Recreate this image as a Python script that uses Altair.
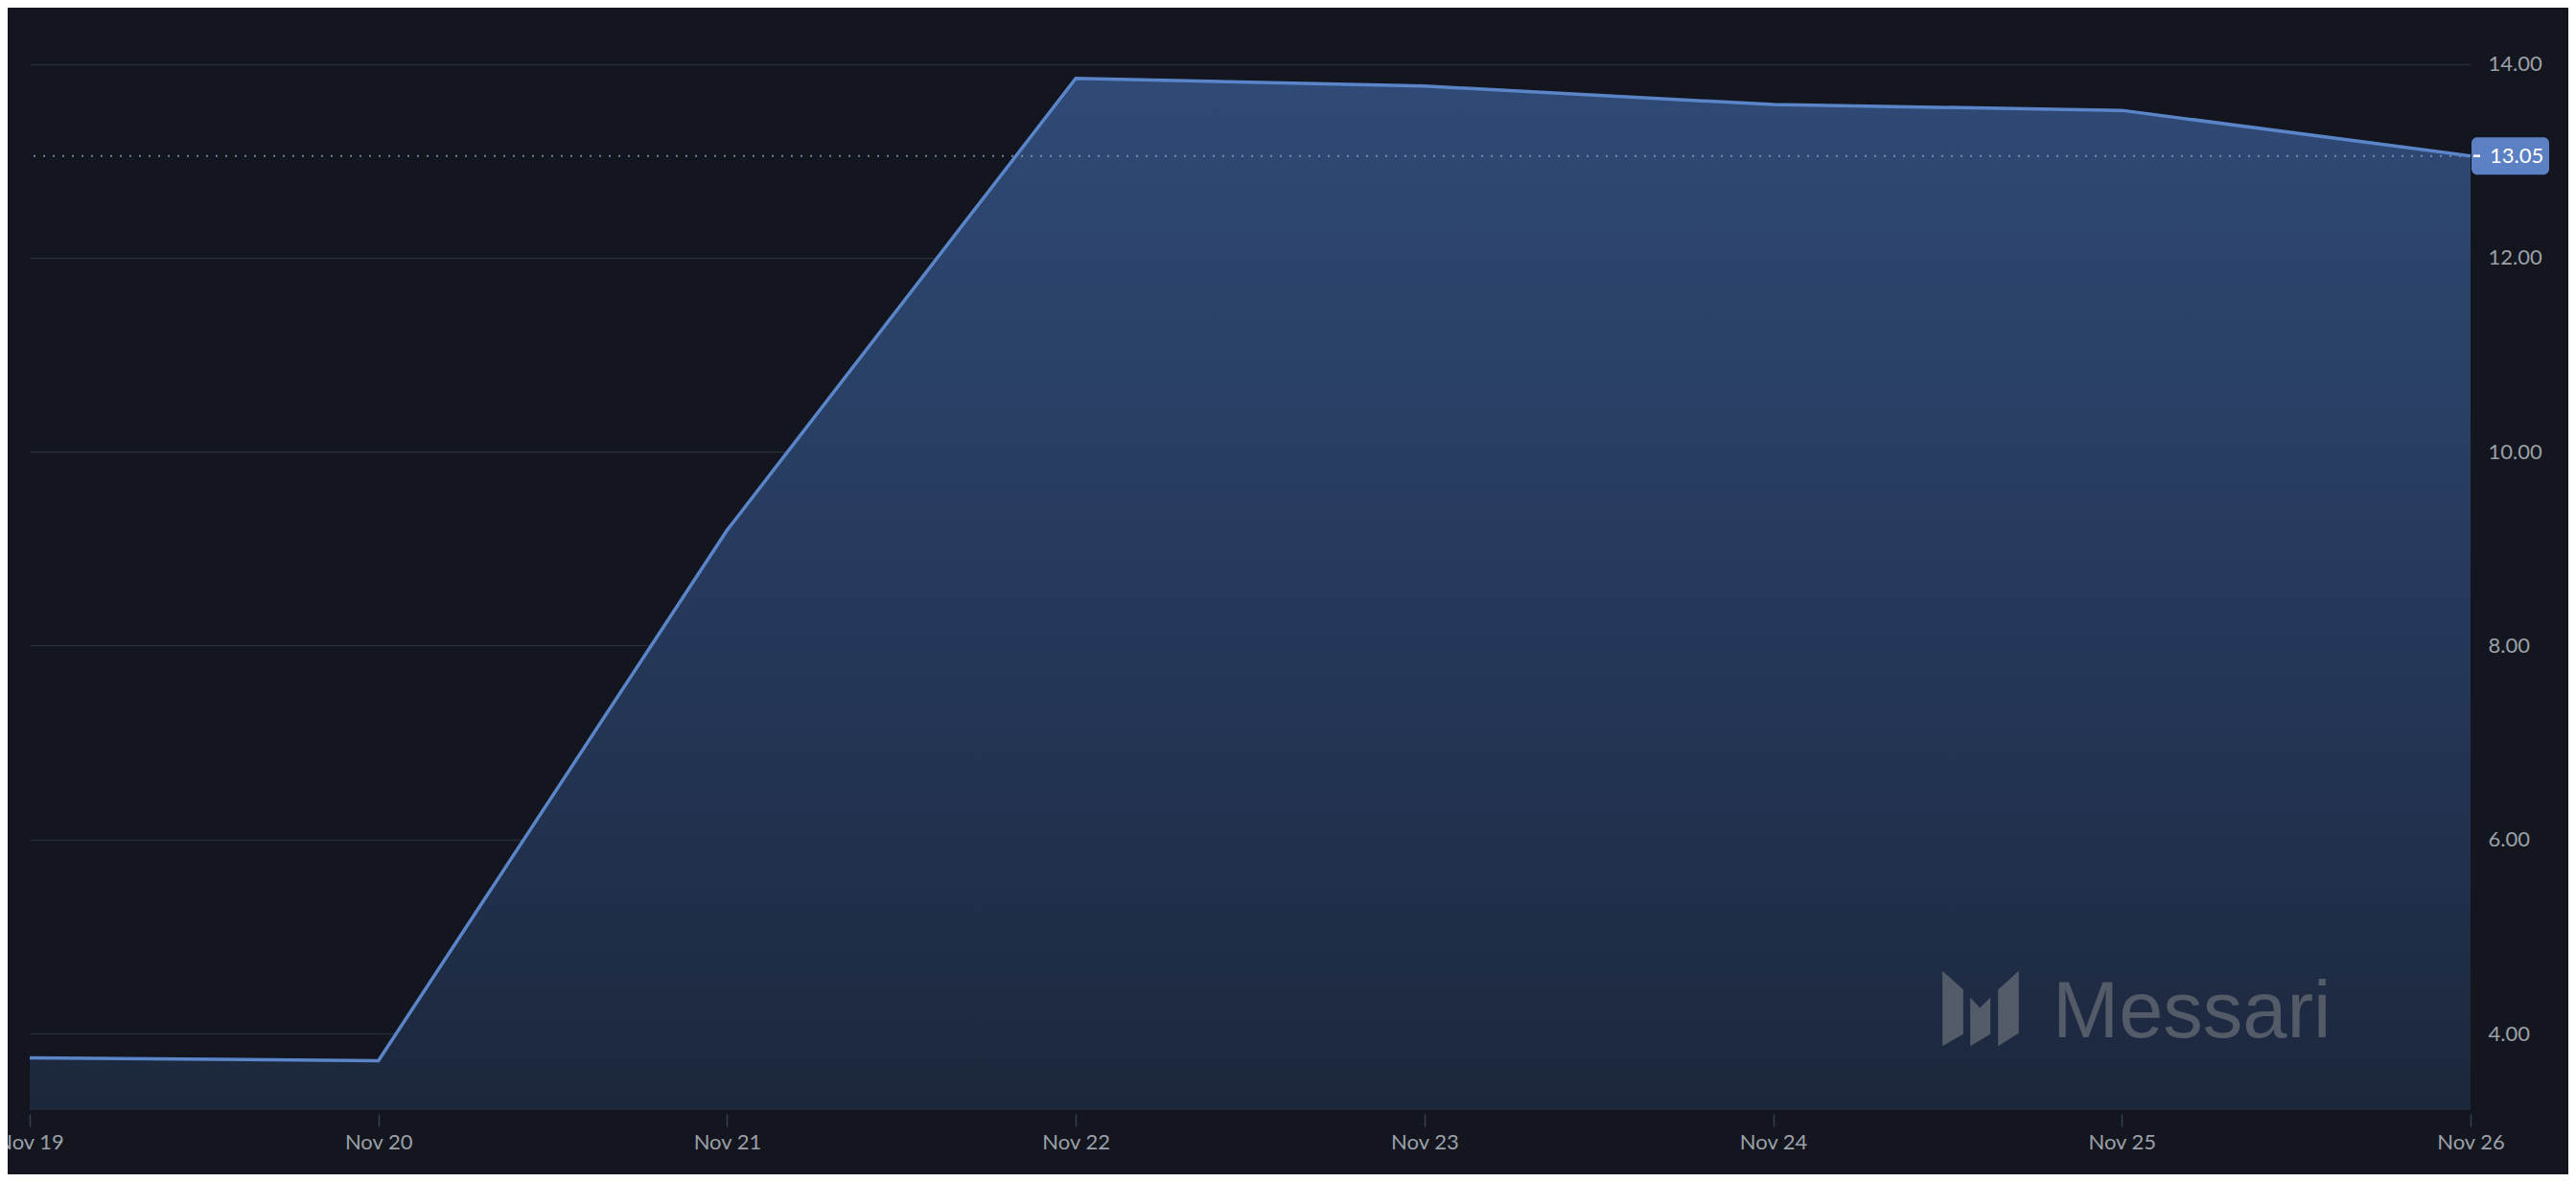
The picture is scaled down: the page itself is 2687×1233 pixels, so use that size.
import altair as alt
import pandas as pd

# ---- data ----
dates = ["2023-11-19", "2023-11-20", "2023-11-21", "2023-11-22",
         "2023-11-23", "2023-11-24", "2023-11-25", "2023-11-26"]
values = [3.75, 3.72, 9.19, 13.85, 13.77, 13.58, 13.52, 13.05]
y_ticks = [4, 6, 8, 10, 12, 14]
y_domain = [3.22, 14.5]
watermark = ["Messari"]

df = pd.DataFrame({"date": pd.to_datetime(dates), "value": values})
last = df.iloc[[-1]].copy()
wm = pd.DataFrame({"label": watermark})

W, H = 2546, 1141
BG = "#13161f"
GRID = "#292d38"
LABEL = "#9ca0a8"
LINE = "#5b85c9"
BADGE = "#5b80c4"
WM = "#535b69"

x_enc = alt.X("date:T", scale=alt.Scale(nice=False, padding=0),
              axis=alt.Axis(title=None, format="%b %d", tickCount="day",
                            grid=False, domain=False, ticks=True,
                            tickSize=13, tickColor="#3a3f4b", tickWidth=1.5,
                            offset=5, labelPadding=6, labelFontSize=22,
                            labelFlush=False, labelOverlap=False,
                            labelFont="Lato", labelColor=LABEL, zindex=2))
y_enc = alt.Y("value:Q", scale=alt.Scale(domain=y_domain, zero=False, nice=False),
              axis=alt.Axis(title=None, orient="right", values=y_ticks, format=".2f",
                            grid=True, gridColor=GRID, gridWidth=1.5,
                            ticks=False, domain=False, labelPadding=18,
                            labelFontSize=22, labelFont="Lato", labelColor=LABEL,
                            labelBaseline="middle"))

base = alt.Chart(df)

area = base.mark_area(
    interpolate="linear",
    clip=True,
    color=alt.Gradient(
        gradient="linear",
        stops=[alt.GradientStop(color="#2f4a76", offset=0),
               alt.GradientStop(color="#233453", offset=0.5),
               alt.GradientStop(color="#161c28", offset=1)],
        x1=0, x2=0, y1=0, y2=1),
).encode(x=x_enc, y=y_enc, y2=alt.value(H))

line = base.mark_line(color=LINE, strokeWidth=3.5, interpolate="linear").encode(
    x="date:T", y="value:Q")

dotted = alt.Chart(last).mark_rule(color="#8a9cc2", strokeWidth=2,
                                   strokeDash=[2, 8], opacity=0.8).encode(y="value:Q")

bottom_line = alt.Chart(last).mark_rule(color=GRID, strokeWidth=1.5).encode(
    x=alt.value(0), x2=alt.value(W), y=alt.value(H))

badge = alt.Chart(last).mark_rect(color=BADGE, cornerRadius=6,
                                  xOffset=1, x2Offset=82,
                                  yOffset=-19.5, y2Offset=19.5).encode(
    x="date:T", x2="date:T", y="value:Q", y2="value:Q")

badge_tick = alt.Chart(last).mark_rule(color="#ffffff", strokeWidth=2.5,
                                       xOffset=3, x2Offset=10).encode(
    x="date:T", x2="date:T", y="value:Q")

badge_text = alt.Chart(last).mark_text(align="left", baseline="middle", dx=20,
                                       fontSize=22, font="Lato",
                                       color="#ffffff").encode(
    x="date:T", y="value:Q", text=alt.Text("value:Q", format=".2f"))

logo_path = ("M -0.996 -0.979 L -0.454 -0.496 L -0.454 0.671 L -0.996 0.979 Z "
             "M -0.271 -0.288 L -0.021 -0.021 L 0.254 -0.288 L 0.254 0.671 L -0.271 0.979 Z "
             "M 0.454 -0.496 L 0.996 -0.979 L 0.996 0.646 L 0.454 0.979 Z")

logo = alt.Chart(wm).mark_point(shape=logo_path, size=6400, filled=True,
                                color=WM, opacity=1, strokeWidth=0).encode(
    x=alt.value(2035), y=alt.value(1036))

wm_text = alt.Chart(wm).mark_text(align="left", baseline="alphabetic",
                                  font="Liberation Sans", fontSize=83,
                                  color=WM).encode(
    x=alt.value(2110), y=alt.value(1066), text="label:N")

chart = alt.layer(area, logo, wm_text, dotted, line, bottom_line,
                  badge, badge_tick, badge_text).properties(
    width=W, height=H,
    autosize=alt.AutoSizeParams(type="none"),
    padding={"left": 23, "top": 8, "right": 102, "bottom": 68},
    background=BG,
).configure_view(stroke=None)

chart.save("out.html", embed_options={"renderer": "svg", "actions": False})
